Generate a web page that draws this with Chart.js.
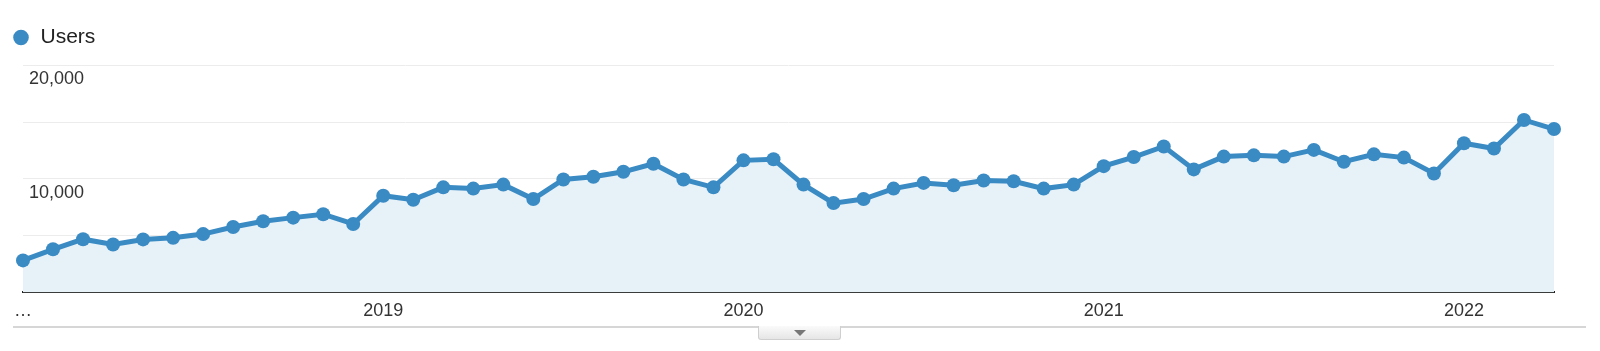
<!DOCTYPE html>
<html>
<head>
<meta charset="utf-8">
<title>Users</title>
<script src="https://cdn.jsdelivr.net/npm/chart.js@4.4.1/dist/chart.umd.min.js"></script>
<style>
  body { margin: 0; background: #fff; }
  #wrap { position: relative; width: 1600px; height: 351px; }
  /* divider + collapse tab under the chart */
  #divider { position: absolute; left: 13px; top: 326px; width: 1573px; height: 2px; background: #d6d6d6; }
  #tab {
    position: absolute; left: 758px; top: 326px; width: 81px; height: 13px;
    background: linear-gradient(#fafafa, #e6e6e6);
    border: 1px solid #cfcfcf; border-top: none; border-radius: 0 0 3px 3px;
  }
  #tab:after {
    content: ''; position: absolute; left: 35px; top: 4px;
    border-left: 6px solid transparent; border-right: 6px solid transparent; border-top: 6px solid #777;
  }
</style>
</head>
<body>
<div id="wrap">
  <canvas id="usersChart" width="1600" height="351"></canvas>
  <div id="divider"></div>
  <div id="tab"></div>
</div>
<script>
// Monthly users, Jan 2018 .. Mar 2022
const startYear = 2018;
const months = [];
for (let i = 0; i < 51 + 1; i++) {
    const y = startYear + Math.floor(i / 12);
    const m = (i % 12) + 1;
    months.push(y + '-' + (m < 10 ? '0' + m : m));
}

const users = [
    2820, 3800, 4690, 4220, 4670, 4810, 5140, 5760, 6270, 6590, 6890, 6030,
    8520, 8170, 9260, 9150, 9500, 8230, 9950, 10190, 10630, 11340, 9950, 9260,
    11640, 11730, 9500, 7870, 8230, 9150, 9650, 9440, 9860, 9800, 9150, 9500,
    11130, 11930, 12860, 10840, 11970, 12080, 11970, 12560, 11520, 12170, 11880, 10480,
    13150, 12680, 15200, 14400
];

// x tick labels shown under the axis
const tickMonths = ['2018-01', '2019-01', '2020-01', '2021-01', '2022-01'];
const tickLabels = ['…', '2019', '2020', '2021', '2022'];

// y gridlines / labels
const yTicks = [0, 5000, 10000, 15000, 20000];
const yLabelled = [10000, 20000];

const blue = '#3a8ac4';
const fontFamily = "'Liberation Sans', Arial, sans-serif";

// push chart area a bit below the legend
const legendSpacer = {
    id: 'legendSpacer',
    beforeInit(chart) {
        const legend = chart.legend;
        if (!legend) return;
        const origFit = legend.fit;
        legend.fit = function() {
            origFit.call(this);
            this.height += 7.5;
        };
    }
};

new Chart(document.getElementById('usersChart'), {
    type: 'line',
    data: {
        labels: months,
        datasets: [{
            label: 'Users',
            data: users,
            borderColor: blue,
            backgroundColor: 'rgba(230, 241, 248, 1)',
            borderWidth: 5,
            pointRadius: 7,
            pointBackgroundColor: blue,
            pointBorderColor: blue,
            pointBorderWidth: 0,
            fill: 'origin',
            tension: 0,
            clip: false
        }]
    },
    options: {
        responsive: false,
        animation: false,
        layout: {
            padding: { top: 27, left: 12, right: 46, bottom: 21 }
        },
        plugins: {
            legend: {
                display: true,
                position: 'top',
                align: 'start',
                labels: {
                    usePointStyle: true,
                    pointStyle: 'circle',
                    boxWidth: 18,
                    boxHeight: 11,
                    padding: 0,
                    color: '#222',
                    font: { family: fontFamily, size: 21 }
                }
            },
            tooltip: { enabled: false }
        },
        scales: {
            x: {
                grid: { display: false, drawTicks: false },
                border: { display: true, color: '#222', width: 2 },
                ticks: {
                    autoSkip: false,
                    maxRotation: 0,
                    padding: 8,
                    color: '#333',
                    font: { family: fontFamily, size: 18 },
                    callback: function(value, index) {
                        const k = tickMonths.indexOf(months[index]);
                        return k >= 0 ? tickLabels[k] : '';
                    }
                }
            },
            y: {
                min: yTicks[0],
                max: yTicks[yTicks.length - 1],
                afterBuildTicks: function(scale) {
                    scale.ticks = yTicks.map(v => ({ value: v }));
                },
                afterFit: function(scale) {
                    scale.width = 11;
                },
                grid: { color: '#ececec', lineWidth: 1, drawTicks: false },
                border: { display: false },
                ticks: {
                    mirror: true,
                    padding: 6,
                    labelOffset: 14,
                    color: '#333',
                    font: { family: fontFamily, size: 18 },
                    callback: function(value) {
                        return yLabelled.includes(value) ? value.toLocaleString('en-US') : '';
                    }
                }
            }
        }
    },
    plugins: [legendSpacer]
});
</script>
</body>
</html>
